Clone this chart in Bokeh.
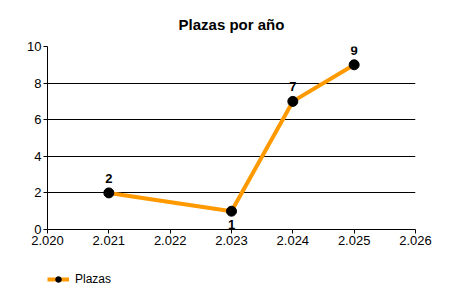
from bokeh.plotting import figure
from bokeh.layouts import column
from bokeh.models import ColumnDataSource, Legend, LegendItem, FixedTicker, Range1d
from bokeh.embed import file_html
from bokeh.resources import INLINE

years = [2021, 2023, 2024, 2025]
plazas = [2, 1, 7, 9]
x_ticks = [2020, 2021, 2022, 2023, 2024, 2025, 2026]
x_tick_labels = ["2.020", "2.021", "2.022", "2.023", "2.024", "2.025", "2.026"]
y_ticks = [0, 2, 4, 6, 8, 10]
series_name = "Plazas"
title_text = "Plazas por año"

FONT = "Liberation Sans"
LINE_COLOR = "#FF9900"

p = figure(frame_width=368, frame_height=183, output_backend="svg", toolbar_location=None,
           x_range=Range1d(2020, 2026), y_range=Range1d(0, 10),
           min_border_left=47, min_border_right=35, min_border_top=46, min_border_bottom=31)
p.title.text = title_text
p.title.align = "center"
p.title.text_font = FONT
p.title.text_font_size = "15px"
p.title.text_font_style = "bold"
p.title.text_color = "black"
p.title.standoff = 27
p.outline_line_color = None
p.background_fill_color = "white"
p.border_fill_color = "white"

p.xaxis.ticker = FixedTicker(ticks=x_ticks)
p.xaxis.major_label_overrides = {t: l for t, l in zip(x_ticks, x_tick_labels)}
p.yaxis.ticker = FixedTicker(ticks=y_ticks)
for ax in (p.xaxis, p.yaxis):
    ax.axis_line_color = "black"
    ax.major_tick_line_color = "black"
    ax.minor_tick_line_color = None
    ax.major_tick_in = 0
    ax.major_tick_out = 4
    ax.major_label_text_font = FONT
    ax.major_label_text_font_size = "13px"
    ax.major_label_text_color = "black"
    ax.major_label_standoff = 2
p.xgrid.grid_line_color = None
p.ygrid.grid_line_color = "black"
p.ygrid.grid_line_width = 1

src = ColumnDataSource(dict(x=years, y=plazas))
p.line("x", "y", source=src, line_color=LINE_COLOR, line_width=4)
p.scatter("x", "y", source=src, size=10, fill_color="black", line_color="black")

# labels: above, except local minimum below
above = []
for i, v in enumerate(plazas):
    lo = (i > 0 and plazas[i - 1] > v) and (i < len(plazas) - 1 and plazas[i + 1] > v)
    above.append(not lo)
src_a = ColumnDataSource(dict(x=[x for x, a in zip(years, above) if a],
                              y=[y for y, a in zip(plazas, above) if a],
                              lab=[str(y) for y, a in zip(plazas, above) if a]))
src_b = ColumnDataSource(dict(x=[x for x, a in zip(years, above) if not a],
                              y=[y for y, a in zip(plazas, above) if not a],
                              lab=[str(y) for y, a in zip(plazas, above) if not a]))
p.text("x", "y", text="lab", source=src_a, text_align="center", text_baseline="bottom",
       y_offset=-10, text_font={"value": FONT}, text_font_size="13px", text_font_style="bold",
       text_color="black")
p.text("x", "y", text="lab", source=src_b, text_align="center", text_baseline="top",
       y_offset=9, text_font={"value": FONT}, text_font_size="13px", text_font_style="bold",
       text_color="black")

# legend strip below the chart (glyph sample only; its point lies outside the strip's ranges)
lf = figure(width=450, height=40, output_backend="svg", toolbar_location=None,
            x_axis_location=None, y_axis_location=None,
            x_range=Range1d(0, 1), y_range=Range1d(0, 1),
            min_border=0, outline_line_color=None)
lf.xgrid.grid_line_color = None
lf.ygrid.grid_line_color = None
lf.background_fill_color = "white"
lf.border_fill_color = "white"
lg_src = ColumnDataSource(dict(x=[-10], y=[-10]))
lg_line = lf.line("x", "y", source=lg_src, line_color=LINE_COLOR, line_width=4)
lg_pts = lf.scatter("x", "y", source=lg_src, size=6, fill_color="black", line_color="black")
legend = Legend(items=[LegendItem(label=series_name, renderers=[lg_line, lg_pts])],
                location=(0, 14), orientation="horizontal",
                background_fill_alpha=0, border_line_color=None,
                label_text_font=FONT, label_text_font_size="12px", label_text_color="black",
                glyph_width=22, glyph_height=14, label_standoff=6, padding=0, margin=0)
lf.add_layout(legend, "center")

layout = column(p, lf, spacing=0)
open("out.html", "w").write(file_html(layout, INLINE))
